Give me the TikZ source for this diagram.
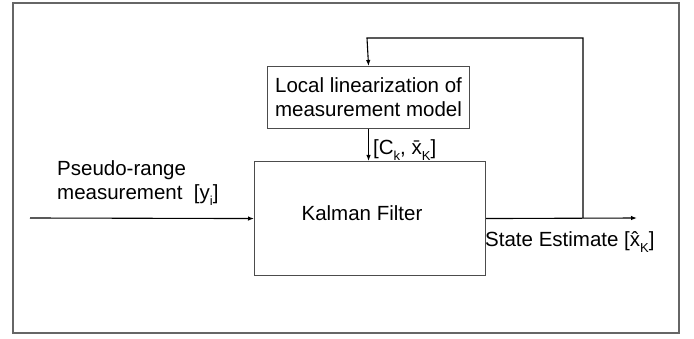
\documentclass[tikz,border=0pt]{standalone}
\usepackage{fontspec}
\setmainfont{Liberation Sans}
\usetikzlibrary{arrows.meta}
\newcommand{\lowsub}[1]{\raisebox{-0.55ex}{\fontsize{13}{13}\selectfont #1}}
\begin{document}
\begin{tikzpicture}[x=1pt,y=-1pt,
  blk/.style={draw=black!70,line width=1.1pt},
  conn/.style={draw=black,line width=1.1pt,-{Latex[length=6pt,width=4.5pt]}},
  lbl/.style={font=\fontsize{20.5}{24}\selectfont,inner sep=0pt},
]
\useasboundingbox (0,0) rectangle (694,339);
\draw[draw=black!60,line width=1.5pt] (13,3) rectangle (679,333);
% boxes
\node[blk,minimum width=231pt,minimum height=114pt,anchor=north west,inner sep=0pt] (kf) at (254,161) {};
\node[lbl] (kft) at (362,213) {Kalman Filter};
\node[blk,minimum width=202pt,minimum height=62pt,anchor=north west,inner sep=0pt] (loc) at (267,66) {};
\node[lbl,align=center] (loct) at (loc.center) {Local linearization of\\measurement model};
% coordinates
\coordinate (in) at (30,218);
\coordinate (out) at (637,218);
\coordinate (fb) at (583,218);
\coordinate (top) at (583,38);
\coordinate (topl) at (367,38);
% connectors
\draw[conn] (in) -- (kf.west);
\draw[conn] (kf.east) -- (out);
\draw[conn] (fb) -- (top) -- (topl) -- (loc.north);
\draw[conn] (loc.south) -- (kf.north -| loc.south);
% labels
\node[lbl,anchor=base west] (l1) at (57,176) {Pseudo-range};
\node[lbl,anchor=base west] (l2) at (57,200) {measurement\ \ [y\lowsub{i}]};
\node[lbl,anchor=west] (l3) at (373,150) {[C\lowsub{k}, \={x}\lowsub{K}]};
\node[lbl,anchor=west] (l4) at (485,242) {State Estimate [\^{x}\lowsub{K}]};
\end{tikzpicture}
\end{document}
